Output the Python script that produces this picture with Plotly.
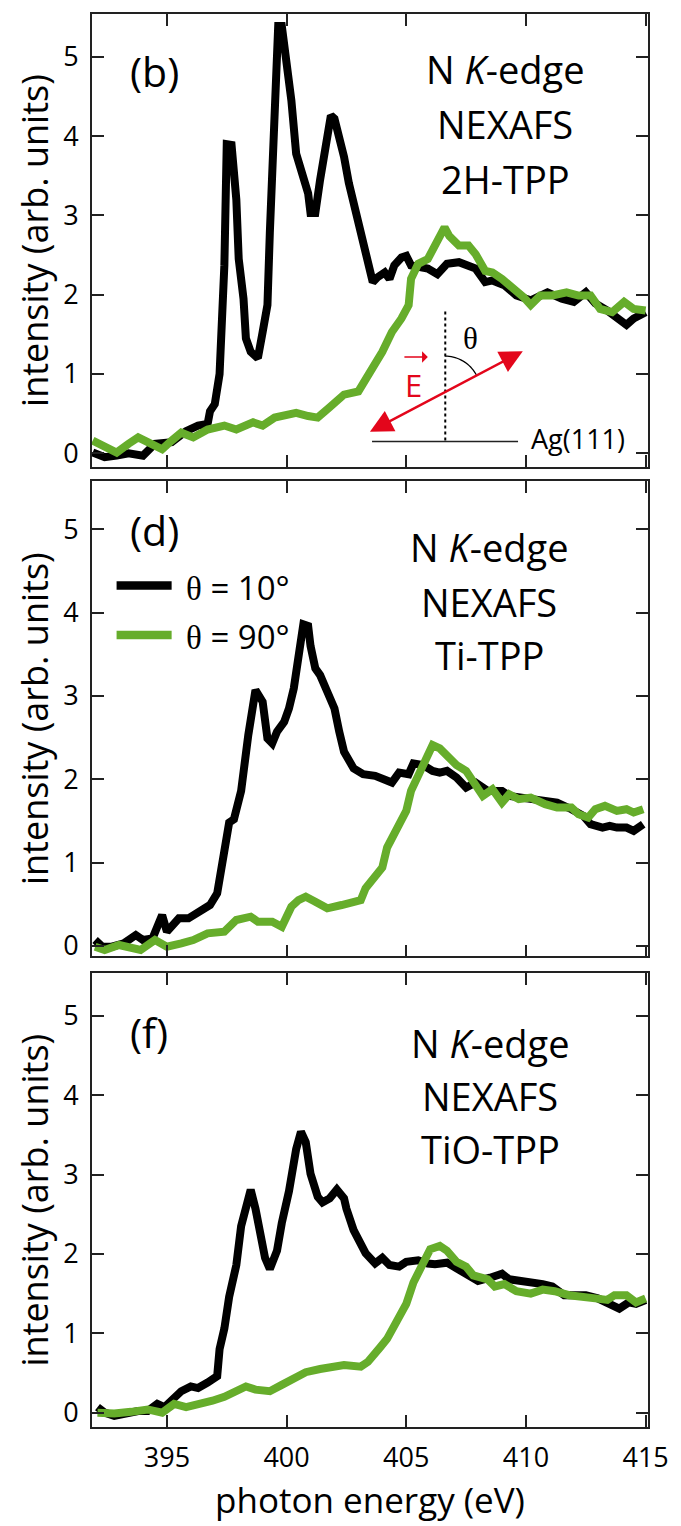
import numpy as np
import plotly.graph_objects as go

# ---------------- data ----------------
# Panel (b) 2H-TPP
energy_b_10 = [391.9, 392.4, 392.9, 393.4, 394.0, 394.5, 395.2, 395.8, 396.3, 396.7, 396.8, 397.0,
               397.2, 397.3, 397.4, 397.5, 397.7, 397.9, 398.0, 398.2, 398.3, 398.5, 398.8, 399.0,
               399.2, 399.3, 399.5, 399.65, 399.8, 400.0, 400.2, 400.4, 400.7, 400.9, 401.0, 401.2,
               401.4, 401.7, 401.85, 402.0, 402.2, 402.4, 402.6, 402.9, 403.2, 403.4, 403.6, 403.8,
               404.1, 404.3, 404.5, 404.8, 405.0, 405.2, 405.6, 405.9, 406.3, 406.7, 407.2, 407.6,
               407.9, 408.3, 408.6, 409.1, 409.6, 410.2, 410.9, 411.5, 412.0, 412.5, 412.9, 413.4,
               413.9, 414.2, 414.5, 415.0]
intens_b_10 = [0.01, -0.05, -0.03, 0.0, -0.03, 0.12, 0.14, 0.28, 0.35, 0.37, 0.53, 0.62,
               1.0, 1.53, 2.37, 3.9, 3.89, 3.2, 2.45, 1.95, 1.45, 1.28, 1.2, 1.53,
               1.87, 2.78, 4.45, 5.39, 5.39, 5.0, 4.45, 3.78, 3.49, 3.28, 3.03, 3.03,
               3.45, 4.03, 4.26, 4.22, 3.99, 3.74, 3.41, 3.03, 2.7, 2.41, 2.16, 2.22,
               2.28, 2.2, 2.37, 2.47, 2.49, 2.37, 2.35, 2.33, 2.26, 2.39, 2.41, 2.37,
               2.33, 2.16, 2.18, 2.12, 1.99, 1.93, 2.03, 1.95, 1.91, 2.03, 1.89, 1.8,
               1.7, 1.62, 1.7, 1.78]
energy_b_90 = [391.9, 392.2, 392.9, 393.4, 393.8, 394.2, 394.8, 395.2, 395.6, 396.1, 396.7, 397.4,
               397.9, 398.6, 399.0, 399.5, 400.1, 400.4, 400.9, 401.3, 401.8, 402.4, 403.0, 403.3,
               403.6, 404.0, 404.4, 404.8, 405.1, 405.2, 405.5, 405.9, 406.3, 406.6, 406.8, 407.2,
               407.6, 407.9, 408.3, 408.6, 409.0, 409.5, 409.9, 410.2, 410.6, 411.1, 411.7, 412.2,
               412.7, 413.1, 413.6, 414.1, 414.5, 415.0]
intens_b_90 = [0.16, 0.12, 0.01, 0.12, 0.2, 0.14, 0.05, 0.16, 0.26, 0.2, 0.3, 0.35,
               0.3, 0.39, 0.35, 0.45, 0.49, 0.51, 0.47, 0.45, 0.58, 0.74, 0.78, 0.95,
               1.08, 1.28, 1.53, 1.7, 1.87, 2.2, 2.39, 2.45, 2.7, 2.85, 2.74, 2.62,
               2.62, 2.51, 2.3, 2.28, 2.2, 2.08, 1.97, 1.87, 1.99, 1.99, 2.03, 1.99,
               1.99, 1.82, 1.78, 1.91, 1.82, 1.8]

# Panel (d) Ti-TPP
energy_d_10 = [392.0, 392.3, 392.7, 393.2, 393.7, 394.0, 394.4, 394.8, 395.0, 395.5, 395.9, 396.4,
               396.8, 397.1, 397.3, 397.6, 397.8, 398.1, 398.4, 398.6, 398.7, 399.0, 399.2, 399.4,
               399.6, 399.9, 400.1, 400.3, 400.5, 400.7, 400.9, 401.0, 401.2, 401.4, 401.7, 402.0,
               402.2, 402.4, 402.8, 403.2, 403.7, 404.1, 404.4, 404.7, 405.1, 405.3, 405.7, 406.1,
               406.4, 406.7, 407.1, 407.5, 407.9, 408.4, 409.0, 409.3, 409.8, 410.2, 410.8, 411.3,
               411.9, 412.4, 412.7, 413.2, 413.5, 413.8, 414.2, 414.5, 414.9]
intens_d_10 = [0.07, -0.01, -0.01, 0.03, 0.13, 0.07, 0.09, 0.37, 0.17, 0.33, 0.33, 0.41,
               0.49, 0.63, 0.98, 1.48, 1.52, 1.86, 2.53, 2.93, 3.07, 2.93, 2.49, 2.43,
               2.57, 2.69, 2.85, 3.09, 3.44, 3.86, 3.84, 3.6, 3.33, 3.25, 3.05, 2.85,
               2.57, 2.33, 2.13, 2.06, 2.04, 1.98, 1.96, 2.08, 2.06, 2.19, 2.17, 2.1,
               2.08, 2.1, 2.02, 1.9, 1.96, 1.86, 1.86, 1.8, 1.78, 1.76, 1.72, 1.72,
               1.64, 1.56, 1.46, 1.42, 1.44, 1.42, 1.42, 1.38, 1.46]
energy_d_90 = [392.0, 392.4, 393.0, 393.6, 393.9, 394.5, 395.0, 395.6, 396.1, 396.7, 397.4, 397.9,
               398.5, 398.8, 399.4, 399.8, 400.2, 400.5, 400.8, 401.2, 401.7, 402.3, 402.8, 403.1,
               403.3, 403.7, 404.0, 404.2, 404.6, 405.0, 405.2, 405.6, 405.9, 406.1, 406.4, 406.8,
               407.1, 407.5, 407.9, 408.2, 408.6, 409.0, 409.3, 409.7, 410.2, 410.8, 411.3, 411.9,
               412.2, 412.6, 412.9, 413.3, 413.8, 414.2, 414.5, 414.9]
intens_d_90 = [-0.01, -0.05, 0.01, -0.03, -0.05, 0.07, -0.01, 0.03, 0.07, 0.15, 0.17, 0.31,
               0.35, 0.29, 0.29, 0.23, 0.47, 0.55, 0.59, 0.53, 0.45, 0.49, 0.53, 0.55,
               0.69, 0.83, 0.94, 1.18, 1.42, 1.62, 1.86, 2.13, 2.29, 2.41, 2.37, 2.25,
               2.17, 2.1, 1.94, 1.8, 1.88, 1.72, 1.82, 1.76, 1.78, 1.7, 1.66, 1.66,
               1.58, 1.54, 1.64, 1.68, 1.62, 1.64, 1.6, 1.64]

# Panel (f) TiO-TPP
energy_f_10 = [392.1, 392.4, 392.8, 393.3, 393.8, 394.2, 394.6, 394.9, 395.3, 395.6, 396.0, 396.3,
               396.7, 397.1, 397.2, 397.4, 397.6, 397.9, 398.1, 398.4, 398.5, 398.7, 398.9, 399.1,
               399.3, 399.6, 399.8, 400.1, 400.4, 400.6, 400.8, 401.0, 401.3, 401.5, 401.8, 402.1,
               402.4, 402.5, 402.8, 403.1, 403.3, 403.7, 404.0, 404.3, 404.7, 405.0, 405.5, 405.9,
               406.2, 406.7, 407.1, 407.6, 408.0, 408.5, 409.0, 409.3, 409.8, 410.2, 410.7, 411.1,
               411.6, 411.9, 412.5, 413.0, 413.6, 413.9, 414.3, 414.6, 415.0]
intens_f_10 = [0.07, 0.0, -0.04, 0.0, 0.02, 0.02, 0.11, 0.07, 0.2, 0.27, 0.33, 0.31,
               0.38, 0.46, 0.8, 1.06, 1.46, 1.86, 2.35, 2.74, 2.81, 2.57, 2.26, 1.95,
               1.81, 2.04, 2.39, 2.79, 3.32, 3.54, 3.41, 3.01, 2.72, 2.65, 2.7, 2.81,
               2.7, 2.57, 2.3, 2.12, 2.01, 1.88, 1.95, 1.86, 1.84, 1.9, 1.92, 1.88,
               1.87, 1.89, 1.81, 1.73, 1.66, 1.7, 1.75, 1.68, 1.66, 1.66, 1.62, 1.59,
               1.48, 1.48, 1.48, 1.44, 1.37, 1.31, 1.39, 1.37, 1.42]
energy_f_90 = [392.1, 392.8, 393.5, 394.2, 394.8, 395.3, 395.8, 396.3, 396.9, 397.4, 397.9, 398.3,
               398.7, 399.3, 399.8, 400.3, 400.8, 401.4, 401.9, 402.4, 403.1, 403.4, 403.9, 404.2,
               404.6, 405.0, 405.3, 405.7, 406.0, 406.4, 406.7, 407.1, 407.5, 407.8, 408.4, 408.7,
               409.1, 409.6, 410.2, 410.7, 411.2, 411.8, 412.3, 412.9, 413.4, 413.7, 414.2, 414.6,
               415.0]
intens_f_90 = [0.0, -0.01, 0.01, 0.04, 0.0, 0.11, 0.07, 0.1, 0.15, 0.2, 0.27, 0.33,
               0.29, 0.27, 0.35, 0.44, 0.51, 0.55, 0.58, 0.6, 0.58, 0.64, 0.82, 0.93,
               1.15, 1.37, 1.64, 1.9, 2.06, 2.1, 2.04, 1.9, 1.84, 1.73, 1.68, 1.59,
               1.62, 1.53, 1.5, 1.55, 1.53, 1.48, 1.47, 1.44, 1.42, 1.48, 1.48, 1.39,
               1.44]

panel_tags = ["(b)", "(d)", "(f)"]
molecules = ["2H-TPP", "Ti-TPP", "TiO-TPP"]
series_names = ["\u03b8 = 10\u00b0", "\u03b8 = 90\u00b0"]
x_ticks = [395, 400, 405, 410, 415]
y_ticks = [0, 1, 2, 3, 4, 5]

# ---------------- styling ----------------
BLACK = "#000000"
GREEN = "#66ad2b"
RED = "#e3061b"
AXC = "#222222"
FONT = "Open Sans"
SERIF = "Liberation Serif"

x_range = [391.87, 415.10]
y_ranges = [[-0.175, 5.541], [-0.126, 5.580], [-0.181, 5.535]]
domains = [[0.6793, 1.0], [0.3331, 0.6695], [0.0, 0.3210]]

fig = go.Figure()
data = [(energy_b_10, intens_b_10, energy_b_90, intens_b_90),
        (energy_d_10, intens_d_10, energy_d_90, intens_d_90),
        (energy_f_10, intens_f_10, energy_f_90, intens_f_90)]

for i, (e10, i10, e90, i90) in enumerate(data):
    sfx = "" if i == 0 else str(i + 1)
    fig.add_trace(go.Scatter(x=e10, y=i10, mode="lines", name=series_names[0],
                             line=dict(color=BLACK, width=8), showlegend=False,
                             xaxis="x" + sfx, yaxis="y" + sfx))
    fig.add_trace(go.Scatter(x=e90, y=i90, mode="lines", name=series_names[1],
                             line=dict(color=GREEN, width=8), showlegend=False,
                             xaxis="x" + sfx, yaxis="y" + sfx))

axis_common = dict(showline=True, linecolor=AXC, linewidth=1.6, mirror="allticks",
                   ticks="inside", ticklen=12, tickwidth=1.6, tickcolor=AXC,
                   showgrid=False, zeroline=False,
                   tickfont=dict(family=FONT, size=27, color="#000"))

layout = dict(width=681, height=1526, plot_bgcolor="white", paper_bgcolor="white",
              margin=dict(l=92, r=24, t=13, b=88), showlegend=False,
              font=dict(family=FONT, color="#000"))

for i in range(3):
    sfx = "" if i == 0 else str(i + 1)
    xa = dict(axis_common, range=x_range, tickvals=x_ticks, anchor="y" + sfx,
              showticklabels=(i == 2), ticklabelstandoff=6)
    if i == 2:
        xa["title"] = dict(text="photon energy (eV)", font=dict(family=FONT, size=35), standoff=14)
    ya = dict(axis_common, range=y_ranges[i], tickvals=y_ticks, domain=domains[i],
              anchor="x" + sfx, ticklabelstandoff=6,
              title=dict(text="intensity (arb. units)", font=dict(family=FONT, size=36), standoff=4))
    layout["xaxis" + sfx] = xa
    layout["yaxis" + sfx] = ya

fig.update_layout(**layout)

# ---------------- text annotations ----------------
ann = []
tag_pos = [(393.36, 4.825), (393.36, 4.993), (393.36, 4.794)]
text_x = [409.13, 408.47, 408.51]
text_y = [(4.85, 4.154, 3.4625), (4.782, 4.133, 3.496), (4.66, 3.995, 3.321)]
for i in range(3):
    sfx = "" if i == 0 else str(i + 1)
    ann.append(dict(x=tag_pos[i][0], y=tag_pos[i][1], xref="x" + sfx, yref="y" + sfx,
                    text=panel_tags[i], showarrow=False, xanchor="left", yanchor="middle",
                    font=dict(family=FONT, size=41, color="#000")))
    lines = ["N <i>K</i>-edge", "NEXAFS", molecules[i]]
    for t, yy in zip(lines, text_y[i]):
        ann.append(dict(x=text_x[i], y=yy, xref="x" + sfx, yref="y" + sfx, text=t,
                        showarrow=False, xanchor="center", yanchor="middle",
                        font=dict(family=FONT, size=38, color="#000")))

# legend drawn in panel (d)
leg_y = [4.326, 3.731]
leg_cols = [BLACK, GREEN]
shapes = []
for name, yy, c in zip(series_names, leg_y, leg_cols):
    shapes.append(dict(type="line", xref="x2", yref="y2", x0=392.897, x1=395.197, y0=yy, y1=yy,
                       line=dict(color=c, width=8.5)))
    ann.append(dict(x=395.72, y=yy - 0.02, xref="x2", yref="y2",
                    text='<span style="font-family:%s">\u03b8</span>%s' % (SERIF, name[1:]),
                    showarrow=False, xanchor="left", yanchor="middle",
                    font=dict(family=FONT, size=33, color="#000")))

# geometry sketch in panel (b)
shapes.append(dict(type="line", xref="x", yref="y", x0=406.63, x1=406.63, y0=0.1625, y1=1.7875,
                   line=dict(color="#000", width=2, dash="dot")))
shapes.append(dict(type="line", xref="x", yref="y", x0=403.57, x1=409.67, y0=0.15, y1=0.15,
                   line=dict(color="#222", width=1.5)))
# angle arc (built in pixel space, converted to data units of panel b)
ang = np.linspace(np.pi / 2, np.deg2rad(27.6), 20)
arc_px = 451 + 36 * np.cos(ang)
arc_py = 394 - 36 * np.sin(ang)
arc_x = 391.87 + (arc_px - 91.7) / 24.35
arc_y = (456 - arc_py) / 80
path = "M " + " L ".join("%.4f,%.4f" % (a, b) for a, b in zip(arc_x, arc_y))
shapes.append(dict(type="path", xref="x", yref="y", path=path, line=dict(color="#000", width=1.3)))

ann.append(dict(x=409.87, y=1.2875, ax=403.42, ay=0.2625, xref="x", yref="y", axref="x", ayref="y",
                text="", showarrow=True, arrowhead=2, arrowside="end+start", arrowsize=1.9,
                arrowwidth=2.4, arrowcolor=RED, standoff=0, startstandoff=0))
ann.append(dict(x=412.17, y=0.1875, xref="x", yref="y", text="Ag(111)", showarrow=False,
                xanchor="center", yanchor="middle", font=dict(family=FONT, size=27, color="#000")))
ann.append(dict(x=407.70, y=1.45, xref="x", yref="y", text="\u03b8", showarrow=False,
                xanchor="center", yanchor="middle", font=dict(family=SERIF, size=31, color="#000")))
ann.append(dict(x=405.30, y=0.86, xref="x", yref="y", text="E", showarrow=False,
                xanchor="center", yanchor="middle", font=dict(family=FONT, size=31, color=RED)))
ann.append(dict(x=405.90, y=1.215, ax=404.86, ay=1.215, xref="x", yref="y", axref="x", ayref="y",
                text="", showarrow=True, arrowhead=1, arrowsize=1.2, arrowwidth=1.6,
                arrowcolor=RED, standoff=0))

fig.update_layout(annotations=ann, shapes=shapes)
fig.write_html("out.html")
